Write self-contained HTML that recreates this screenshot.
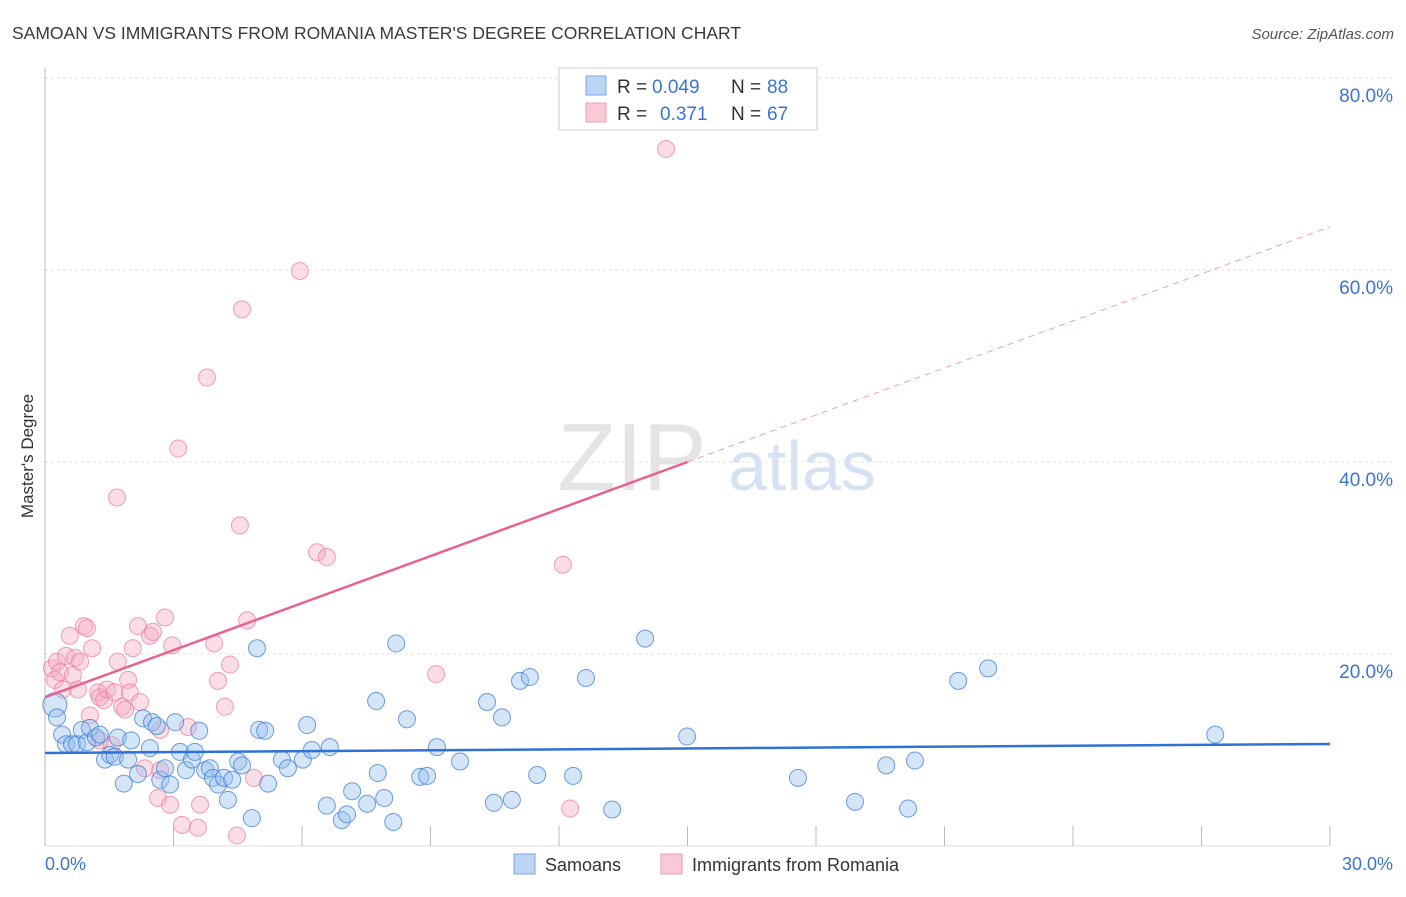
<!DOCTYPE html>
<html><head><meta charset="utf-8"><style>
body{margin:0;background:#fff;font-family:"Liberation Sans",sans-serif;}
svg text{font-family:"Liberation Sans",sans-serif;}
</style></head><body>
<svg id="chart" width="1406" height="892" xmlns="http://www.w3.org/2000/svg">
<text x="12" y="39" font-size="17.5" fill="#3a3a3a">SAMOAN VS IMMIGRANTS FROM ROMANIA MASTER'S DEGREE CORRELATION CHART</text>
<text x="1394" y="39" font-size="15" fill="#555" font-style="italic" text-anchor="end">Source: ZipAtlas.com</text>
<text transform="translate(33,456) rotate(-90)" font-size="17" fill="#333" text-anchor="middle">Master's Degree</text>
<g>
<text x="632" y="490" font-size="96" fill="#e4e4e4" font-family="Liberation Serif" text-anchor="middle">ZIP</text>
<text x="802" y="490" font-size="70" fill="#d4e2f4" text-anchor="middle">atlas</text>
</g>
<g id="grid"></g>
<g id="marks"></g>
<g>
<rect x="559" y="68" width="258" height="62" fill="#fff" stroke="#ccc"/>
<rect x="586" y="76" width="20" height="19" fill="#bcd5f4" stroke="#7aa6df"/>
<rect x="586" y="103" width="20" height="19" fill="#fac9d6" stroke="#ef9ab2"/>
<text x="617" y="93" font-size="19" fill="#333">R =</text>
<text x="652" y="93" font-size="19" fill="#3a74d1">0.049</text>
<text x="731" y="93" font-size="19" fill="#333">N =</text>
<text x="767" y="93" font-size="19" fill="#3a74d1">88</text>
<text x="617" y="120" font-size="19" fill="#333">R =</text>
<text x="660" y="120" font-size="19" fill="#3a74d1">0.371</text>
<text x="731" y="120" font-size="19" fill="#333">N =</text>
<text x="767" y="120" font-size="19" fill="#3a74d1">67</text>
</g>
<g>
<rect x="514" y="854" width="21" height="20" fill="#bcd5f4" stroke="#7aa6df"/>
<text x="545" y="871" font-size="18" fill="#333">Samoans</text>
<rect x="661" y="854" width="21" height="20" fill="#fac9d6" stroke="#ef9ab2"/>
<text x="692" y="871" font-size="18" fill="#333">Immigrants from Romania</text>
</g>
</svg>
<script>
const yTicks=[20,40,60,80];
const yTickLabels=["20.0%","40.0%","60.0%","80.0%"];
const xLabels=["0.0%","30.0%"];
const samoanX=[0.23,0.28,0.40,0.49,0.63,0.75,0.86,0.98,1.05,1.19,1.28,1.40,1.52,1.63,1.70,1.84,1.94,2.01,2.17,2.29,2.45,2.50,2.61,2.69,2.80,2.92,3.04,3.15,3.29,3.43,3.50,3.60,3.74,3.85,3.92,4.04,4.18,4.27,4.37,4.51,4.60,4.83,4.95,5.00,5.14,5.21,5.53,5.67,6.02,6.12,6.23,6.58,6.65,6.93,7.05,7.17,7.52,7.73,7.77,7.92,8.13,8.20,8.45,8.76,8.92,9.15,9.69,10.32,10.48,10.67,10.90,11.09,11.32,11.49,12.33,12.63,13.24,14.01,14.99,17.58,18.91,19.64,20.15,20.31,21.32,22.02,27.32];
const samoanY=[14.7,13.4,11.6,10.6,10.6,10.6,12.1,10.8,12.3,11.3,11.6,9.0,9.5,9.3,11.3,6.5,9.0,11.0,7.5,13.3,10.2,12.9,12.5,6.9,8.1,6.4,12.9,9.8,7.9,9.0,9.8,12.0,7.9,8.1,7.1,6.4,7.1,4.8,6.9,8.8,8.4,2.9,20.6,12.1,12.0,6.5,9.0,8.1,9.0,12.6,10.0,4.2,10.3,2.7,3.3,5.7,4.4,15.1,7.6,5.0,2.5,21.1,13.2,7.2,7.3,10.3,8.8,15.0,4.5,13.4,4.8,17.2,17.6,7.4,7.3,17.5,3.8,21.6,11.4,7.1,4.6,8.4,3.9,8.9,17.2,18.5,11.6];
const romaniaX=[0.16,0.23,0.28,0.35,0.42,0.49,0.58,0.65,0.70,0.77,0.82,0.91,0.98,1.05,1.10,1.24,1.28,1.38,1.45,1.56,1.63,1.68,1.70,1.80,1.87,1.94,1.98,2.05,2.17,2.22,2.33,2.45,2.52,2.64,2.69,2.80,2.92,2.97,3.11,3.20,3.34,3.57,3.62,3.78,3.95,4.04,4.20,4.32,4.48,4.55,4.60,4.72,4.88,5.95,6.35,6.58,9.13,12.09,12.26,14.50,1.28,2.69];
const romaniaY=[18.5,17.3,19.2,18.1,16.3,19.8,21.9,17.8,19.6,16.3,19.2,22.9,22.7,13.6,20.6,16.0,15.5,15.2,16.3,10.5,16.0,36.3,19.2,14.5,14.2,17.3,16.0,20.6,22.9,15.0,8.1,21.9,22.3,5.0,7.9,23.8,4.3,20.9,41.4,2.2,12.4,1.9,4.3,48.8,21.1,17.2,14.5,18.9,1.1,33.4,55.9,23.5,7.1,59.9,30.6,30.1,17.9,29.3,3.9,72.6,11.0,12.1];
const samoanTrend=[9.69,10.63];
const romaniaTrend=[15.5,64.5];
const romaniaSolidEnd=15;

const NS="http://www.w3.org/2000/svg";
const X=v=>45+v*(1285/30);
const Y=v=>846-v*9.6;
function mk(tag,attrs,parent){const e=document.createElementNS(NS,tag);for(const k in attrs)e.setAttribute(k,attrs[k]);parent.appendChild(e);return e;}
const grid=document.getElementById('grid'),marks=document.getElementById('marks');
yTicks.forEach((t,i)=>{
  const l=mk('line',{x1:45,x2:1394,y1:Y(t),y2:Y(t),stroke:'#e2e2e2','stroke-dasharray':'3,3'},grid);
  
  
  const tx=mk('text',{x:1393,y:Y(t)+24,'font-size':19,fill:'#3a74d1','text-anchor':'end'},grid);
  tx.textContent=yTickLabels[i];
  
  
});
const ax=mk('line',{x1:45,x2:45,y1:68,y2:846,stroke:'#bbb'},grid);


const bx=mk('line',{x1:45,x2:1330,y1:846,y2:846,stroke:'#ddd'},grid);


for(let v=3;v<=30;v+=3){
  const t=mk('line',{x1:X(v),x2:X(v),y1:826,y2:846,stroke:'#bbb'},grid);
  
  
}
[[0,'start',45],[30,'end',1393]].forEach((d,i)=>{
  const t=mk('text',{x:d[2],y:870,'font-size':18,fill:'#3a74d1','text-anchor':d[1]},grid);
  t.textContent=xLabels[i];
  
  
});
romaniaX.forEach((x,i)=>{
  const c=mk('circle',{cx:X(x),cy:Y(romaniaY[i]),r:8.5,fill:'rgba(246,170,192,0.4)',stroke:'rgba(236,120,155,0.7)','stroke-width':1},marks);
  
  
});
samoanX.forEach((x,i)=>{
  const c=mk('circle',{cx:X(x),cy:Y(samoanY[i]),r:i==0?12:8.5,fill:'rgba(150,190,238,0.4)',stroke:'rgba(60,125,215,0.75)','stroke-width':1},marks);
  
  
});
const st=mk('line',{x1:X(0),y1:Y(samoanTrend[0]),x2:X(30),y2:Y(samoanTrend[1]),stroke:'#2f72d4','stroke-width':2.5},marks);


const rAt=v=>romaniaTrend[0]+(romaniaTrend[1]-romaniaTrend[0])*v/30;
const rt=mk('line',{x1:X(0),y1:Y(rAt(0)),x2:X(romaniaSolidEnd),y2:Y(rAt(romaniaSolidEnd)),stroke:'#e8628d','stroke-width':2.5},marks);


const rd=mk('line',{x1:X(romaniaSolidEnd),y1:Y(rAt(romaniaSolidEnd)),x2:X(30),y2:Y(rAt(30)),stroke:'#e8a0b8','stroke-width':1,'stroke-dasharray':'6,5'},marks);


</script>
</body></html>
